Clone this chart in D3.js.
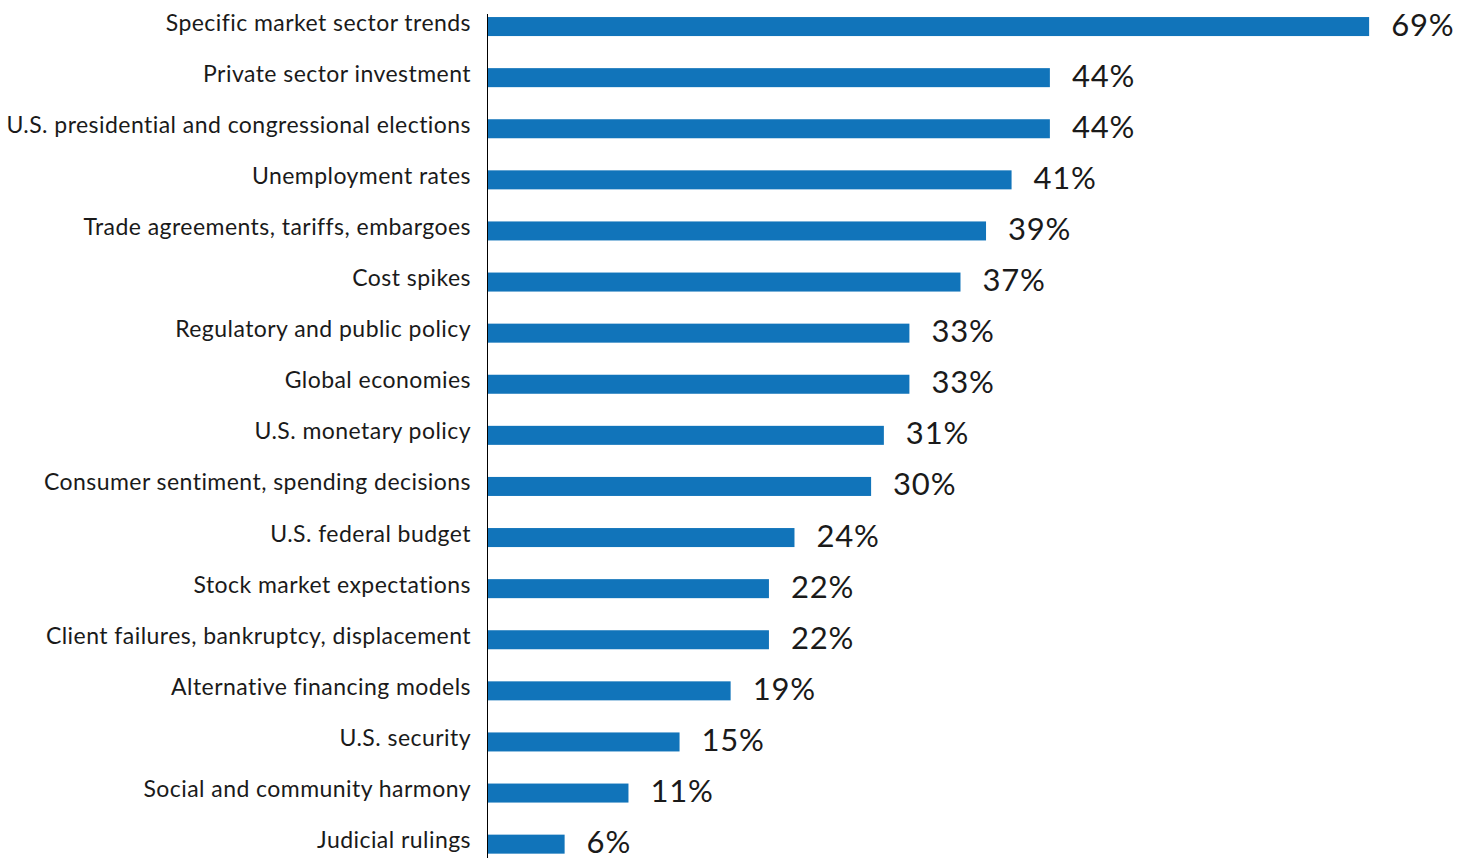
<!DOCTYPE html>
<html>
<head>
<meta charset="utf-8">
<script src="https://cdn.jsdelivr.net/npm/d3@7"></script>
<style>
  body { margin: 0; background: #fff; }
  svg { display: block; }
  text { font-family: Lato, "Open Sans", sans-serif; fill: #1a1a1a; }
</style>
</head>
<body>
<div id="container"></div>
<script>
/* DATA */
const categories = [
  "Specific market sector trends",
  "Private sector investment",
  "U.S. presidential and congressional elections",
  "Unemployment rates",
  "Trade agreements, tariffs, embargoes",
  "Cost spikes",
  "Regulatory and public policy",
  "Global economies",
  "U.S. monetary policy",
  "Consumer sentiment, spending decisions",
  "U.S. federal budget",
  "Stock market expectations",
  "Client failures, bankruptcy, displacement",
  "Alternative financing models",
  "U.S. security",
  "Social and community harmony",
  "Judicial rulings"
];
const values = [69, 44, 44, 41, 39, 37, 33, 33, 31, 30, 24, 22, 22, 19, 15, 11, 6];

/* CONSTANTS */
const width = 1470,
  height = 858,
  axisX = 487.5;

const data = categories.map((c, i) => ({ category: c, value: values[i] }));

/* SCALES */
const xScale = d3.scaleLinear()
  .domain([0, 100])
  .range([488, 488 + 1277]);

const yScale = d3.scaleBand()
  .domain(categories)
  .range([1, 869.7])
  .paddingInner(0.628)
  .paddingOuter(0.314);

/* SVG */
const svg = d3.select("#container")
  .append("svg")
  .attr("width", width)
  .attr("height", height);

// bars
svg.selectAll(".bar")
  .data(data)
  .join("rect")
  .attr("class", "bar")
  .attr("x", xScale(0))
  .attr("y", d => yScale(d.category))
  .attr("width", d => xScale(d.value) - xScale(0))
  .attr("height", yScale.bandwidth())
  .attr("fill", "#1174ba");

// axis line
svg.append("line")
  .attr("x1", axisX).attr("x2", axisX)
  .attr("y1", 14).attr("y2", height)
  .attr("stroke", "#000")
  .attr("stroke-width", 1);

// category labels
svg.selectAll(".cat")
  .data(data)
  .join("text")
  .attr("class", "cat")
  .attr("x", 471)
  .attr("y", d => yScale(d.category) + yScale.bandwidth() / 2 + 4)
  .attr("text-anchor", "end")
  .style("font-size", "23px")
  .style("letter-spacing", "0.45px")
  .text(d => d.category);

// value labels
svg.selectAll(".val")
  .data(data)
  .join("text")
  .attr("class", "val")
  .attr("x", d => xScale(d.value) + 22)
  .attr("y", d => yScale(d.category) + yScale.bandwidth() / 2 + 9)
  .style("font-size", "31px")
  .style("letter-spacing", "0.8px")
  .text(d => d.value + "%");
</script>
</body>
</html>
